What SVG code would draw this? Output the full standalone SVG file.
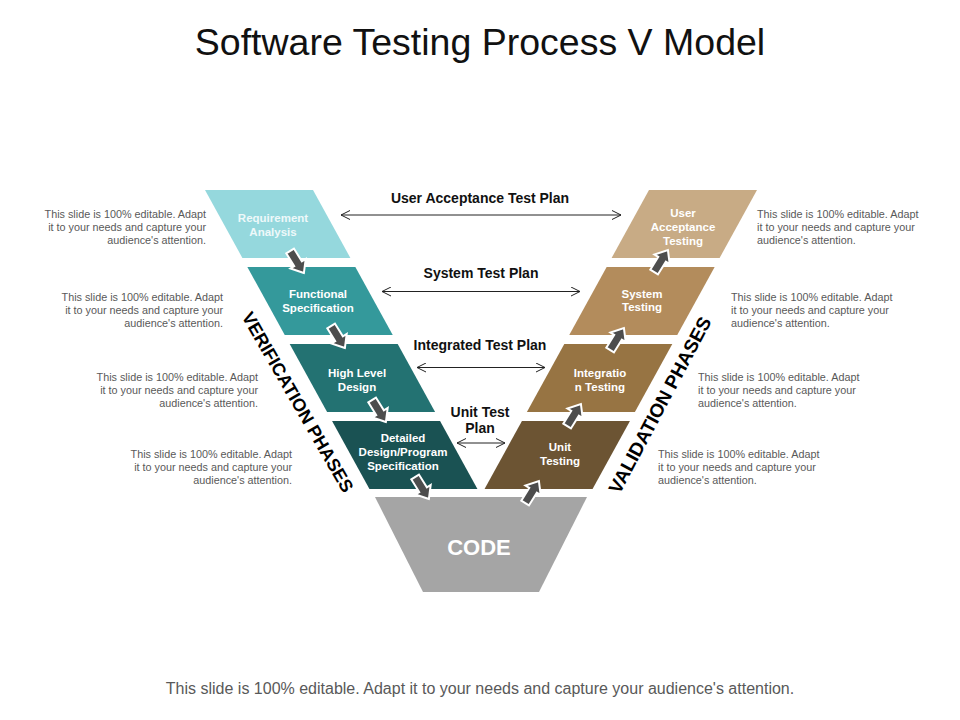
<svg xmlns="http://www.w3.org/2000/svg" xmlns:xlink="http://www.w3.org/1999/xlink" width="960" height="720" viewBox="0 0 960 720">
<style>
.title{font-family:"Liberation Sans",Arial,sans-serif;font-size:37.5px;fill:#111;text-anchor:middle}
.foot{font-family:"Liberation Sans",Arial,sans-serif;font-size:16px;fill:#595959;text-anchor:middle}
.desc{font-family:"Liberation Sans",Arial,sans-serif;font-size:10.8px;fill:#595959}
.dl{text-anchor:end}
.bx{font-family:"Liberation Sans",Arial,sans-serif;font-size:11.5px;font-weight:bold;fill:#fff;text-anchor:middle}
.plan{font-family:"Liberation Sans",Arial,sans-serif;font-size:14px;font-weight:bold;fill:#111;text-anchor:middle}
.phase{font-family:"Liberation Sans",Arial,sans-serif;font-size:18px;font-weight:bold;fill:#000;text-anchor:middle}
.code{font-family:"Liberation Sans",Arial,sans-serif;font-size:22px;font-weight:bold;fill:#fff;text-anchor:middle}
.dbl{stroke:#222;stroke-width:1;fill:none;marker-start:url(#chev);marker-end:url(#chev)}
</style>
<defs>
<marker id="chev" viewBox="0 0 11 10" refX="10" refY="5" markerWidth="11" markerHeight="10" markerUnits="userSpaceOnUse" orient="auto-start-reverse">
<path d="M1,0.5 L10,5 L1,9.5" fill="none" stroke="#222" stroke-width="1"/>
</marker>
<path id="blk" d="M0,-13 L9,-2 L4.5,-2 L4.5,13 L-4.5,13 L-4.5,-2 L-9,-2 Z" fill="#4d4d4d" stroke="#fff" stroke-width="2" stroke-linejoin="miter"/>
</defs>
<rect width="960" height="720" fill="#fff"/>
<text class="title" x="480" y="55">Software Testing Process V Model</text>

<g id="req-analysis">
<polygon points="205,190 313,190 350.4,258 242.4,258" fill="#95d8dd"/>
<text class="bx" x="273" y="222" style="fill:#eef9fa">Requirement</text>
<text class="bx" x="273" y="235.5" style="fill:#eef9fa">Analysis</text>
</g>
<g id="functional-spec">
<polygon points="247.35,267 355.35,267 392.75,335 284.75,335" fill="#34999b"/>
<text class="bx" x="318" y="298">Functional</text>
<text class="bx" x="318" y="312">Specification</text>
</g>
<g id="high-level-design">
<polygon points="289.7,344 397.7,344 435.1,412 327.1,412" fill="#237272"/>
<text class="bx" x="357" y="377">High Level</text>
<text class="bx" x="357" y="391">Design</text>
</g>
<g id="detailed-design">
<polygon points="332.05,421 440.05,421 477.45,489 369.45,489" fill="#1a5253"/>
<text class="bx" x="403" y="442">Detailed</text>
<text class="bx" x="403" y="456">Design/Program</text>
<text class="bx" x="403" y="469.5">Specification</text>
</g>

<g id="uat">
<polygon points="649,190 757,190 719.6,258 611.6,258" fill="#c8ab85"/>
<text class="bx" x="683" y="217">User</text>
<text class="bx" x="683" y="230.5">Acceptance</text>
<text class="bx" x="683" y="244.5">Testing</text>
</g>
<g id="system-testing">
<polygon points="606.65,267 714.65,267 677.25,335 569.25,335" fill="#b38c5c"/>
<text class="bx" x="642" y="297.5">System</text>
<text class="bx" x="642" y="311">Testing</text>
</g>
<g id="integration-testing">
<polygon points="564.3,344 672.3,344 634.9,412 526.9,412" fill="#977443"/>
<text class="bx" x="600" y="377">Integratio</text>
<text class="bx" x="600" y="391">n Testing</text>
</g>
<g id="unit-testing">
<polygon points="521.95,421 629.95,421 592.55,489 484.55,489" fill="#6c5433"/>
<text class="bx" x="560" y="451">Unit</text>
<text class="bx" x="560" y="465">Testing</text>
</g>

<g id="code">
<polygon points="375,497 587,497 539,592 423,592" fill="#a5a5a5"/>
<text class="code" x="479" y="555">CODE</text>
</g>

<g id="connectors">
<use href="#blk" xlink:href="#blk" transform="translate(297,262) rotate(148)"/>
<use href="#blk" xlink:href="#blk" transform="translate(338,337) rotate(148)"/>
<use href="#blk" xlink:href="#blk" transform="translate(379,411) rotate(148)"/>
<use href="#blk" xlink:href="#blk" transform="translate(422,488) rotate(148)"/>
<use href="#blk" xlink:href="#blk" transform="translate(661,261) rotate(32)"/>
<use href="#blk" xlink:href="#blk" transform="translate(617,339) rotate(32)"/>
<use href="#blk" xlink:href="#blk" transform="translate(574,415) rotate(32)"/>
<use href="#blk" xlink:href="#blk" transform="translate(532,492) rotate(32)"/>
<line class="dbl" x1="341" y1="215" x2="621" y2="215"/>
<line class="dbl" x1="382" y1="291.5" x2="580" y2="291.5"/>
<line class="dbl" x1="417" y1="367.5" x2="545" y2="367.5"/>
<line class="dbl" x1="457" y1="443" x2="505" y2="443"/>
</g>

<g id="plan-labels">
<text class="plan" x="480" y="203">User Acceptance Test Plan</text>
<text class="plan" x="481" y="278">System Test Plan</text>
<text class="plan" x="480" y="350">Integrated Test Plan</text>
<text class="plan" x="480" y="417">Unit Test</text>
<text class="plan" x="480" y="433">Plan</text>
</g>

<g id="phases">
<text class="phase" transform="translate(298,402) rotate(60)" x="0" y="6.5">VERIFICATION PHASES</text>
<text class="phase" transform="translate(660,405) rotate(-62)" x="0" y="6.5" style="font-size:19px">VALIDATION PHASES</text>
</g>

<g id="descriptions">
<text class="desc dl" x="206" y="218">This slide is 100% editable. Adapt</text>
<text class="desc dl" x="206" y="231">it to your needs and capture your</text>
<text class="desc dl" x="206" y="244">audience's attention.</text>
<text class="desc dl" x="223" y="301">This slide is 100% editable. Adapt</text>
<text class="desc dl" x="223" y="314">it to your needs and capture your</text>
<text class="desc dl" x="223" y="327">audience's attention.</text>
<text class="desc dl" x="258" y="381">This slide is 100% editable. Adapt</text>
<text class="desc dl" x="258" y="394">it to your needs and capture your</text>
<text class="desc dl" x="258" y="407">audience's attention.</text>
<text class="desc dl" x="292" y="458">This slide is 100% editable. Adapt</text>
<text class="desc dl" x="292" y="471">it to your needs and capture your</text>
<text class="desc dl" x="292" y="484">audience's attention.</text>
<text class="desc" x="757" y="218">This slide is 100% editable. Adapt</text>
<text class="desc" x="757" y="231">it to your needs and capture your</text>
<text class="desc" x="757" y="244">audience's attention.</text>
<text class="desc" x="731" y="301">This slide is 100% editable. Adapt</text>
<text class="desc" x="731" y="314">it to your needs and capture your</text>
<text class="desc" x="731" y="327">audience's attention.</text>
<text class="desc" x="698" y="381">This slide is 100% editable. Adapt</text>
<text class="desc" x="698" y="394">it to your needs and capture your</text>
<text class="desc" x="698" y="407">audience's attention.</text>
<text class="desc" x="658" y="458">This slide is 100% editable. Adapt</text>
<text class="desc" x="658" y="471">it to your needs and capture your</text>
<text class="desc" x="658" y="484">audience's attention.</text>
</g>

<text class="foot" x="480" y="694">This slide is 100% editable. Adapt it to your needs and capture your audience's attention.</text>
</svg>
